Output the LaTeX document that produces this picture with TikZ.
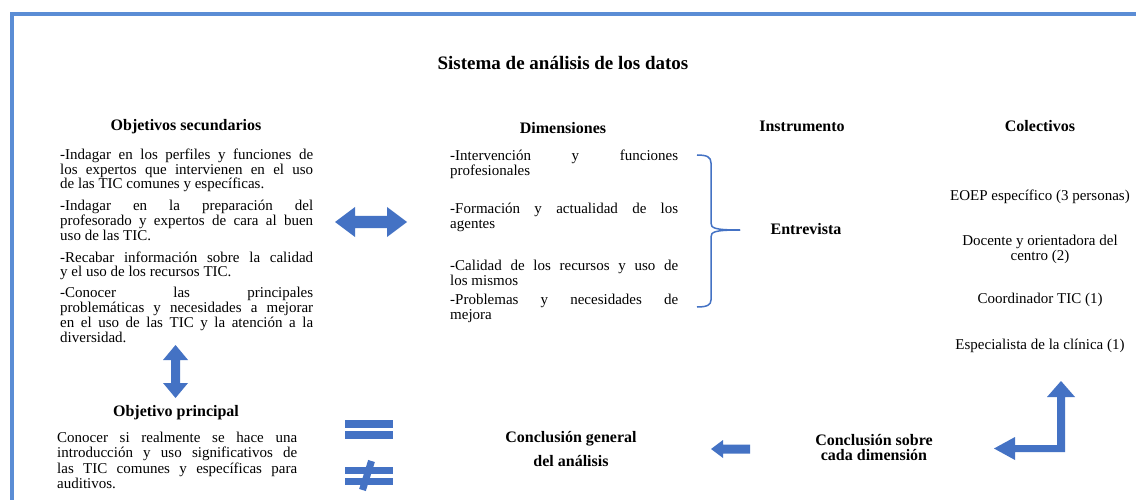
\documentclass[tikz,border=0pt]{standalone}
\usepackage{fontspec}
\setmainfont{Liberation Serif}
\usetikzlibrary{positioning}
\definecolor{frameblue}{RGB}{91,141,213}
\definecolor{arrowblue}{RGB}{68,114,196}
\tolerance=10000
\hyphenpenalty=10000

\begin{document}
\begin{tikzpicture}[x=1pt,y=-1pt]
  \tikzstyle{head}=[font=\fontsize{16}{18}\selectfont\bfseries, inner sep=0pt]
  \tikzstyle{body}=[font=\fontsize{15}{14.8}\selectfont, inner sep=0pt]
  \tikzstyle{para}=[body, align=justify, anchor=north west]
  \tikzstyle{blockarrow}=[fill=arrowblue, draw=none]

\useasboundingbox (0,0) rectangle (1136,500);
\fill[white] (0,0) rectangle (1136,500);
\draw[frameblue, line width=4pt] (11.5,500) -- (11.5,14) -- (1136,14);

% headings
\node[head, font=\fontsize{19}{21}\selectfont\bfseries] (title) at (563,63) {Sistema de análisis de los datos};
\node[head] (secund) at (186,127) {Objetivos secundarios};
\node[head] (dimen) at (563,128) {Dimensiones};
\node[head] (instr) at (802,126) {Instrumento};
\node[head] (colect) at (1040,126) {Colectivos};

% objetivos secundarios
\node[para, text width=253pt] (objsec) at (60,148.5) {%
-Indagar en los perfiles y funciones de\linebreak los expertos que intervienen en el uso\linebreak de las TIC comunes y específicas.\par\vspace{7pt}
-Indagar en la preparación del\linebreak profesorado y expertos de cara al buen\linebreak uso de las TIC.\par\vspace{7pt}
-Recabar información sobre la calidad\linebreak y el uso de los recursos TIC.\par\vspace{6pt}
-Conocer las principales\linebreak problemáticas y necesidades a mejorar\linebreak en el uso de las TIC y la atención a la\linebreak diversidad.};

% dimensiones
\foreach \y/\t [count=\i] in {150/-Intervención y funciones\linebreak profesionales,
  203/-Formación y actualidad de los\linebreak agentes,
  260/-Calidad de los recursos y uso de\linebreak los mismos,
  294/-Problemas y necesidades de\linebreak mejora} {
  \node[para, text width=228pt] (dim\i) at (450,\y) {\t};
}

% llave
\draw[arrowblue, line width=1.5pt] (697,155) .. controls (707,155) and (711,157) .. (711,163)
  -- (711,223) .. controls (711,228) and (714,230) .. (740,230);
\draw[arrowblue, line width=1.5pt] (740,230) .. controls (714,230) and (711,232) .. (711,237)
  -- (711,300) .. controls (711,305) and (707,307) .. (697,307);

\node[head] (entrev) at (806,229) {Entrevista};

% colectivos
\foreach \y/\t [count=\i] in {197/EOEP específico (3 personas),
  249.5/Docente y orientadora del\\centro (2),
  300/Coordinador TIC (1),
  346/Especialista de la clínica (1)} {
  \node[body, align=center] (col\i) at (1040,\y) {\t};
}

% objetivo principal
\node[head] (princ) at (176,413) {Objetivo principal};
\node[para, text width=240pt, font=\fontsize{15}{15.3}\selectfont] (objprin) at (57,432) {%
Conocer si realmente se hace una\linebreak introducción y uso significativos de\linebreak las TIC comunes y específicas para\linebreak auditivos.};

% conclusiones
\node[head, align=center, font=\fontsize{16}{24}\selectfont\bfseries] (concgen) at (571,449) {Conclusión general\\del análisis};
\node[head, align=center, font=\fontsize{16}{15}\selectfont\bfseries] (concdim) at (874,447.5) {Conclusión sobre\\cada dimensión};

% flechas
\fill[blockarrow] (335,222) -- (355,207) -- (355,216) -- (387,216) -- (387,207) -- (407,222)
  -- (387,237) -- (387,228) -- (355,228) -- (355,237) -- cycle;
\fill[blockarrow] (175.5,345) -- (188,360) -- (180,360) -- (180,383) -- (188,383) -- (175.5,398)
  -- (163,383) -- (171,383) -- (171,360) -- (163,360) -- cycle;
\fill[blockarrow] (711,449) -- (723,440) -- (723,444.5) -- (750,444.5) -- (750,453.5)
  -- (723,453.5) -- (723,458) -- cycle;
\fill[blockarrow] (1061,381) -- (1075,397) -- (1065,397) -- (1065,452) -- (1015,452) -- (1015,460)
  -- (994,448.5) -- (1015,437) -- (1015,445) -- (1057,445) -- (1057,397) -- (1047,397) -- cycle;

% igual y distinto
\foreach \ya/\yb in {420/427.5, 431/439, 467/474, 477.5/485} {
  \fill[blockarrow] (345,\ya) rectangle (393,\yb);
}
\draw[arrowblue, line width=7pt] (371.5,461) -- (362.5,490);

\end{tikzpicture}
\end{document}
